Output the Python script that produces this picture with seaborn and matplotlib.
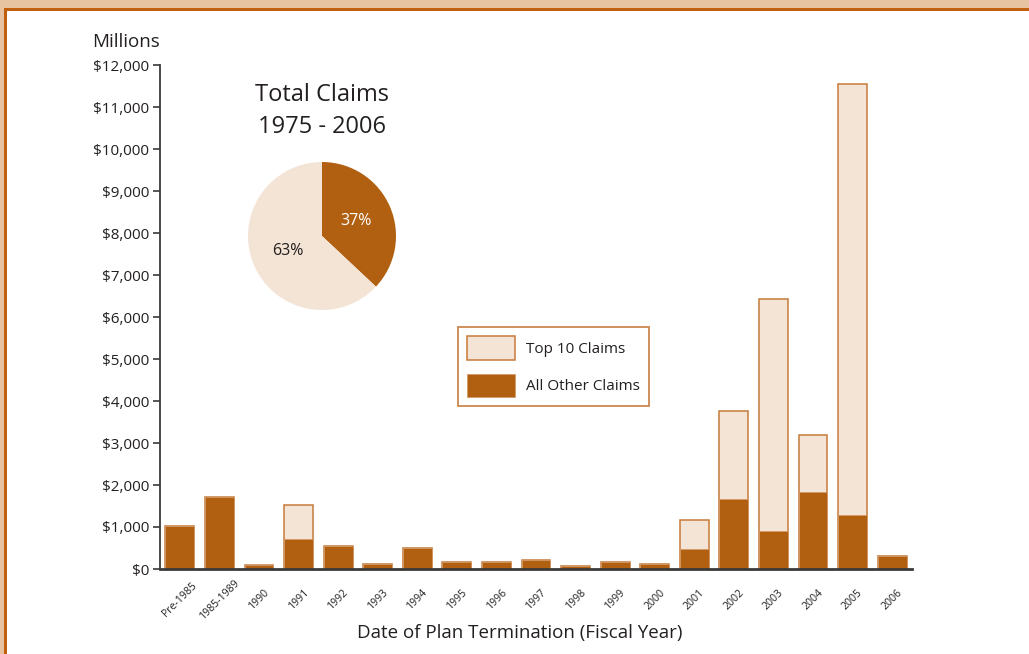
import matplotlib
matplotlib.use("Agg")
import matplotlib.pyplot as plt
import matplotlib.patches as mpatches
import seaborn as sns
import pandas as pd
import numpy as np

# ---- data ----
categories = ["Pre-1985", "1985-1989", "1990", "1991", "1992", "1993", "1994", "1995",
              "1996", "1997", "1998", "1999", "2000", "2001", "2002", "2003", "2004",
              "2005", "2006"]
other_claims = [1020, 1710, 100, 705, 555, 126, 500, 167, 175, 205, 80, 175, 110,
                485, 1667, 905, 1843, 1279, 319]
top10_claims = [0, 0, 0, 825, 0, 0, 0, 0, 0, 0, 0, 0, 0,
                675, 2095, 5525, 1340, 10269, 0]
pie_labels = ["All Other Claims", "Top 10 Claims"]
pie_values = [37, 63]
y_ticks = list(range(0, 12001, 1000))

DARK = "#B06010"
LIGHT = "#F4E4D5"
EDGE = "#C77A3A"
PEACH = "#E8C3A2"
ORANGE = "#C0600E"
TXT = "#231F20"

sns.set_theme(style="white")
plt.rcParams["font.family"] = ["Open Sans", "DejaVu Sans"]

W, H = 1029, 654
fig = plt.figure(figsize=(W / 100, H / 100), dpi=100)

# frame decorations
fig.patches.append(mpatches.Rectangle((0, 1 - 8 / H), 1, 8 / H, transform=fig.transFigure,
                                      facecolor=PEACH, edgecolor="none", zorder=0))
fig.patches.append(mpatches.Rectangle((0, 0), 4 / W, 1, transform=fig.transFigure,
                                      facecolor=PEACH, edgecolor="none", zorder=0))
fig.patches.append(mpatches.Rectangle((4 / W, 1 - 11 / H), 1, 3 / H, transform=fig.transFigure,
                                      facecolor=ORANGE, edgecolor="none", zorder=0))
fig.patches.append(mpatches.Rectangle((4 / W, 0), 3 / W, 1 - 8 / H, transform=fig.transFigure,
                                      facecolor=ORANGE, edgecolor="none", zorder=0))

# main axes
ax = fig.add_axes([160 / W, 1 - 569 / H, (912 - 160) / W, (569 - 65) / H])
ax.set_facecolor("none")

df = pd.DataFrame({"cat": categories, "other": other_claims, "top10": top10_claims})
df["total"] = df["other"] + df["top10"]

sns.barplot(data=df, x="cat", y="total", color=LIGHT, saturation=1, width=0.73,
            edgecolor=EDGE, linewidth=1.1, ax=ax)
sns.barplot(data=df, x="cat", y="other", color=DARK, saturation=1, width=0.73,
            edgecolor="#D49A68", linewidth=0.6, ax=ax)

ax.set_xlim(-0.5, len(categories) - 0.5)
ax.set_ylim(0, 12000)
ax.set_yticks(y_ticks)
ax.set_yticklabels([f"${v:,}" for v in y_ticks], fontsize=11, color=TXT)
ax.tick_params(axis="y", direction="out", length=5, width=1.2, color="#3A3A3A", pad=3, left=True)
ax.tick_params(axis="x", length=0, pad=22)
ax.set_xticks(range(len(categories)))
ax.set_xticklabels(categories, rotation=45, ha="center", va="center",
                   rotation_mode="anchor", fontsize=7.6, color=TXT)
ax.set_xlabel("Date of Plan Termination (Fiscal Year)", fontsize=13.5, color=TXT)
ax.xaxis.set_label_coords((520 - 160) / 752, -(633 - 569) / 504)
ax.xaxis.label.set_va("center")
ax.set_ylabel("")
for s in ["top", "right"]:
    ax.spines[s].set_visible(False)
ax.spines["left"].set_color("#3A3A3A")
ax.spines["left"].set_linewidth(1.3)
ax.spines["bottom"].set_color("#3A3A3A")
ax.spines["bottom"].set_linewidth(2)

fig.text(126 / W, 1 - 42 / H, "Millions", fontsize=13.5, color=TXT, ha="center", va="center")

# legend
handles = [mpatches.Patch(facecolor=LIGHT, edgecolor=EDGE, linewidth=1.1, label="Top 10 Claims"),
           mpatches.Patch(facecolor=DARK, edgecolor="#D49A68", linewidth=0.6, label="All Other Claims")]
leg = fig.legend(handles=handles, loc="upper left", bbox_to_anchor=(458 / W, 1 - 327 / H),
                 fontsize=11, handlelength=3.1, handleheight=2.0, labelspacing=0.9,
                 borderpad=0.6, handletextpad=0.75, fancybox=False, frameon=True,
                 borderaxespad=0)
leg.get_frame().set_edgecolor("#C06A22")
leg.get_frame().set_linewidth(1.3)
for t in leg.get_texts():
    t.set_color(TXT)

# pie
cx, cy, r = 322, 236, 74
pax = fig.add_axes([(cx - r) / W, 1 - (cy + r) / H, 2 * r / W, 2 * r / H])
wedges, texts, autotexts = pax.pie(pie_values, colors=[DARK, LIGHT], startangle=90,
                                   counterclock=False, autopct="%d%%", pctdistance=0.5,
                                   wedgeprops=dict(linewidth=0),
                                   textprops=dict(fontsize=11.5))
autotexts[0].set_color("white")
autotexts[1].set_color(TXT)
pax.set_xlim(-1, 1)
pax.set_ylim(-1, 1)
pax.set_aspect("equal")
fig.text(cx / W, 1 - 111 / H, "Total Claims\n1975 - 2006", fontsize=17, color=TXT,
         ha="center", va="center", linespacing=1.45)

fig.savefig("out.png", dpi=100)
